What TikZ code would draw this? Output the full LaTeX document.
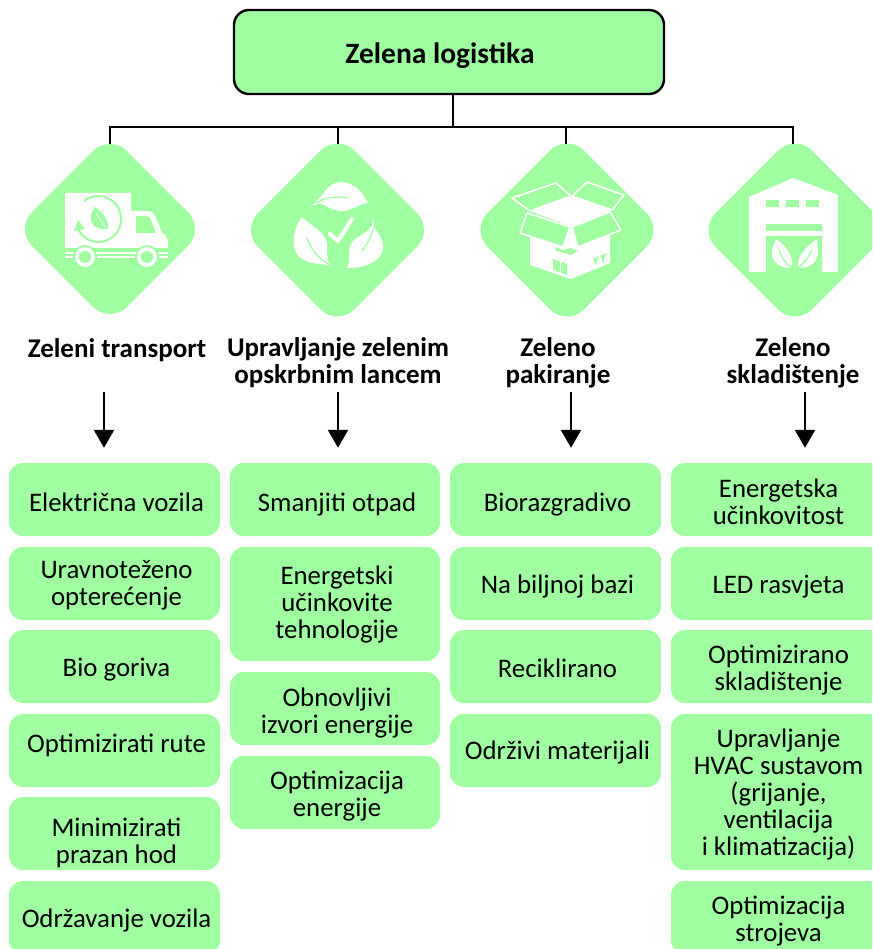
\documentclass[tikz,border=0pt]{standalone}
\usepackage{fontspec}
\setmainfont{Carlito}
\usetikzlibrary{shapes.geometric,arrows.meta,calc}
\definecolor{lgreen}{HTML}{A0FFA0}
\tikzset{
  x=1pt,y=-1pt,
  root/.style={draw=black,line width=2.4pt,fill=lgreen,rounded corners=15pt,inner sep=0pt},
  dia/.style={diamond,fill=lgreen,rounded corners=24pt,minimum width=193pt,minimum height=193pt,inner sep=0pt},
  lab/.style={align=center,font=\fontsize{27}{27}\selectfont\bfseries,inner sep=0pt},
  item/.style={fill=lgreen,rounded corners=14pt,inner sep=0pt},
  itemtext/.style={inner sep=0pt,align=center,font=\fontsize{26.8}{27}\selectfont},
  bus/.style={line width=2pt,black},
  arr/.style={line width=2.4pt,black,-{Triangle[length=18pt,width=20pt]}},
  gf/.style={fill=lgreen,draw=none},
  wl/.style={draw=white,line width=1.6pt,fill=lgreen,line join=round},
  vein/.style={draw=lgreen,line width=1.2pt},
}
% \itembox{name}{x-left}{y-top}{x-right}{y-bottom}
\newcommand{\itembox}[5]{%
  \node[item,minimum width=#4pt-#2pt,minimum height=#5pt-#3pt] (#1) at ({(#2+#4)/2},{(#3+#5)/2}) {};}
\newcommand{\itemtext}[3]{\node[itemtext] (#1t) at ($(#1.center)+(2,#2)$) {#3};}
\begin{document}
\begin{tikzpicture}
\path[use as bounding box] (0,0) rectangle (872,949);
\clip (0,0) rectangle (872,949);
% root
\node[root,minimum width=430pt,minimum height=84pt] (root) at (449,52) {};
\node[font=\fontsize{29.5}{32}\selectfont\bfseries,inner sep=0pt] (roott) at (440,56) {Zelena logistika};
% diamonds
\node[dia,minimum width=190pt,minimum height=190pt] (d1) at (110,229) {};
\node[dia] (d2) at (337.5,230) {};
\node[dia] (d3) at (567,230) {};
\node[dia] (d4) at (795,230) {};
% connectors
\coordinate (j0) at (453,127);
\coordinate (t1) at (110,144);
\coordinate (t2) at (338,144);
\coordinate (t3) at (566,144);
\coordinate (t4) at (793,144);
\draw[bus] (root.south -| j0) -- (j0);
\draw[bus] (t1) -- (110,127) -- (793,127) -- (t4);
\draw[bus] (t2) -- (t2 |- j0);
\draw[bus] (t3) -- (t3 |- j0);
% truck icon
\fill[white] (65,193) -- (131,193) -- (131,211) -- (148,211) .. controls (152,211) and (154,214) .. (156,218) -- (162,233) -- (165,235) .. controls (167,237) and (168,240) .. (168,243) -- (168,248) -- (65,248) -- cycle;
\fill[gf] (136,216) -- (146,216) .. controls (149,216) and (150,218) .. (151,220) -- (156,233) -- (136,233) -- cycle;
\fill[white] (65,252) rectangle (168,258);
\fill[gf] (65,254.5) rectangle (168,256);
\foreach \w in {85,147}{
  \fill[gf] (\w,257) circle (12);
  \fill[white] (\w,257) circle (10);
  \fill[gf] (\w,257) circle (6);
}
\draw[lgreen,line width=2pt] (84,201) .. controls (88,198) and (93,196) .. (98,196) .. controls (111,196) and (121,206) .. (121,219) .. controls (121,232) and (111,242) .. (98,242) .. controls (89,242) and (81,236) .. (78,228);
\fill[gf] (78,220) -- (85,229) -- (74,231) -- cycle;
\fill[gf] (95,207) .. controls (103,212) and (110,222) .. (108,229) .. controls (100,230) and (90,227) .. (91,217) .. controls (91,213) and (93,210) .. (95,207) -- cycle;
\draw[white,line width=.9pt] (96,213) -- (105,227);
% recycling leaves
\fill[white] (312,205) .. controls (322,200) and (325,182) .. (342,182) .. controls (355,183) and (363,193) .. (368,203) .. controls (360,203) and (352,211) .. (342,211) .. controls (332,211) and (325,205) .. (320,203) .. controls (317,204) and (314,206) .. (312,205) -- cycle;
\draw[vein] (316,203) .. controls (325,197) and (340,196) .. (348,198);
\fill[white] (302,217) .. controls (293,228) and (292,245) .. (296,252) .. controls (300,262) and (315,264) .. (322,264) -- (331,266) .. controls (325,258) and (328,250) .. (327,243) .. controls (325,232) and (310,225) .. (302,217) -- cycle;
\draw[vein] (307,238) .. controls (311,250) and (320,260) .. (330,265);
\fill[white] (373,219) -- (375,229) .. controls (380,235) and (383,240) .. (383,246) .. controls (383,262) and (365,268) .. (347,268) .. controls (351,262) and (348,255) .. (350,246) .. controls (352,238) and (365,235) .. (372,226) -- cycle;
\draw[vein] (362,251) .. controls (367,245) and (372,235) .. (374,226);
\draw[white,line width=4pt,line cap=round,line join=round] (330,234) -- (338,241) -- (352,219);
% box icon
\fill[white] (530,232) -- (530,265) -- (571,279) -- (610,263) -- (610,232) -- cycle;
\fill[white] (571,196) -- (612,210) -- (572,227) -- (530,211) -- cycle;
\draw[wl] (512,198) -- (556,183) -- (571,196) -- (530,211) -- cycle;
\draw[wl] (587,182) -- (624,195) -- (612,210) -- (572,196) -- cycle;
\draw[wl] (527,213) -- (570,227) -- (563,247) -- (520,233) -- cycle;
\draw[wl] (610,212) -- (621,230) -- (578,247) -- (572,227) -- cycle;
\fill[white] (571,227) -- (579,248) -- (563,248) -- cycle;
\fill[gf] (555,247) -- (563,250) -- (571,248) -- (578,251) -- (571,255) -- (555,250) -- cycle;
\fill[gf] (553,259) -- (567,264) -- (567,275) -- (553,270) -- cycle;
\draw[white,line width=.8pt] (560,261) -- (560,273);
\fill[gf] (593,259) -- (599,256) -- (597,260) -- (596,266) -- (595,263) -- cycle;
\fill[gf] (600,256) -- (607,253) -- (604,258) -- (604,264) -- (602,259) -- cycle;
% warehouse icon
\fill[white] (749,197) -- (793,178) -- (838,195) -- (838,272) -- (749,272) -- cycle;
\fill[gf] (766,200) rectangle (779,207);
\fill[gf] (786,200) rectangle (799,207);
\fill[gf] (806,200) rectangle (819,207);
\fill[gf] (766,224) rectangle (822,231);
\fill[gf] (766,236) rectangle (822,272);
\fill[white] (776,239) .. controls (785,245) and (793,255) .. (792,265) -- (790,268) .. controls (778,268) and (771,260) .. (772,252) .. controls (772,247) and (775,243) .. (776,239) -- cycle;
\fill[white] (817,239) .. controls (808,245) and (798,255) .. (798,265) -- (800,268) .. controls (812,268) and (818,260) .. (818,252) .. controls (818,247) and (817,243) .. (817,239) -- cycle;
\draw[vein] (779,250) .. controls (782,258) and (786,264) .. (791,267);
\draw[vein] (812,250) .. controls (808,258) and (804,264) .. (799,267);
% labels
\node[lab] (l1) at (117,350) {Zeleni transport};
\node[lab] (l2) at (338,363) {Upravljanje zelenim\\opskrbnim lancem};
\node[lab] (l3) at (558,363) {Zeleno\\pakiranje};
\node[lab] (l4) at (793,363) {Zeleno\\skladištenje};
% items
\itembox{a1}{9}{463}{220}{536}
\itembox{a2}{9}{547}{220}{620}
\itembox{a3}{9}{630}{220}{703}
\itembox{a4}{9}{714}{220}{787}
\itembox{a5}{9}{797}{220}{870}
\itembox{a6}{9}{881}{220}{954}
\itembox{b1}{230}{463}{440}{536}
\itembox{b2}{230}{547}{440}{661}
\itembox{b3}{230}{672}{440}{745}
\itembox{b4}{230}{756}{440}{829}
\itembox{c1}{450}{463}{661}{536}
\itembox{c2}{450}{547}{661}{620}
\itembox{c3}{450}{630}{661}{703}
\itembox{c4}{450}{714}{661}{787}
\itembox{e1}{671}{463}{882}{536}
\itembox{e2}{671}{547}{882}{620}
\itembox{e3}{671}{630}{882}{703}
\itembox{e4}{671}{714}{882}{870}
\itembox{e5}{671}{881}{882}{954}
\itemtext{a1}{3}{Električna vozila}
\itemtext{a2}{2}{Uravnoteženo\\opterećenje}
\itemtext{a3}{3}{Bio goriva}
\itemtext{a4}{-5}{Optimizirati rute}
\itemtext{a5}{9}{Minimizirati\\prazan hod}
\itemtext{a6}{3}{Održavanje vozila}
\itemtext{b1}{5}{Smanjiti otpad}
\itemtext{b2}{0}{Energetski\\učinkovite\\tehnologije}
\itemtext{b3}{4}{Obnovljivi\\izvori energije}
\itemtext{b4}{4}{Optimizacija\\energije}
\itemtext{c1}{5}{Biorazgradivo}
\itemtext{c2}{3}{Na biljnoj bazi}
\itemtext{c3}{2}{Reciklirano}
\itemtext{c4}{2}{Održivi materijali}
\itemtext{e1}{2}{Energetska\\učinkovitost}
\itemtext{e2}{3}{LED rasvjeta}
\itemtext{e3}{4}{Optimizirano\\skladištenje}
\itemtext{e4}{2}{Upravljanje\\HVAC sustavom\\(grijanje,\\ventilacija\\i klimatizacija)}
\itemtext{e5}{4}{Optimizacija\\strojeva}
% arrows
\coordinate (s1) at (104,392);
\coordinate (s2) at (338,392);
\coordinate (s3) at (571,392);
\coordinate (s4) at (805,392);
\draw[arr,shorten >=15pt] (s1) -- (s1 |- a1.north);
\draw[arr,shorten >=15pt] (s2) -- (s2 |- b1.north);
\draw[arr,shorten >=15pt] (s3) -- (s3 |- c1.north);
\draw[arr,shorten >=15pt] (s4) -- (s4 |- e1.north);
\end{tikzpicture}
\end{document}
